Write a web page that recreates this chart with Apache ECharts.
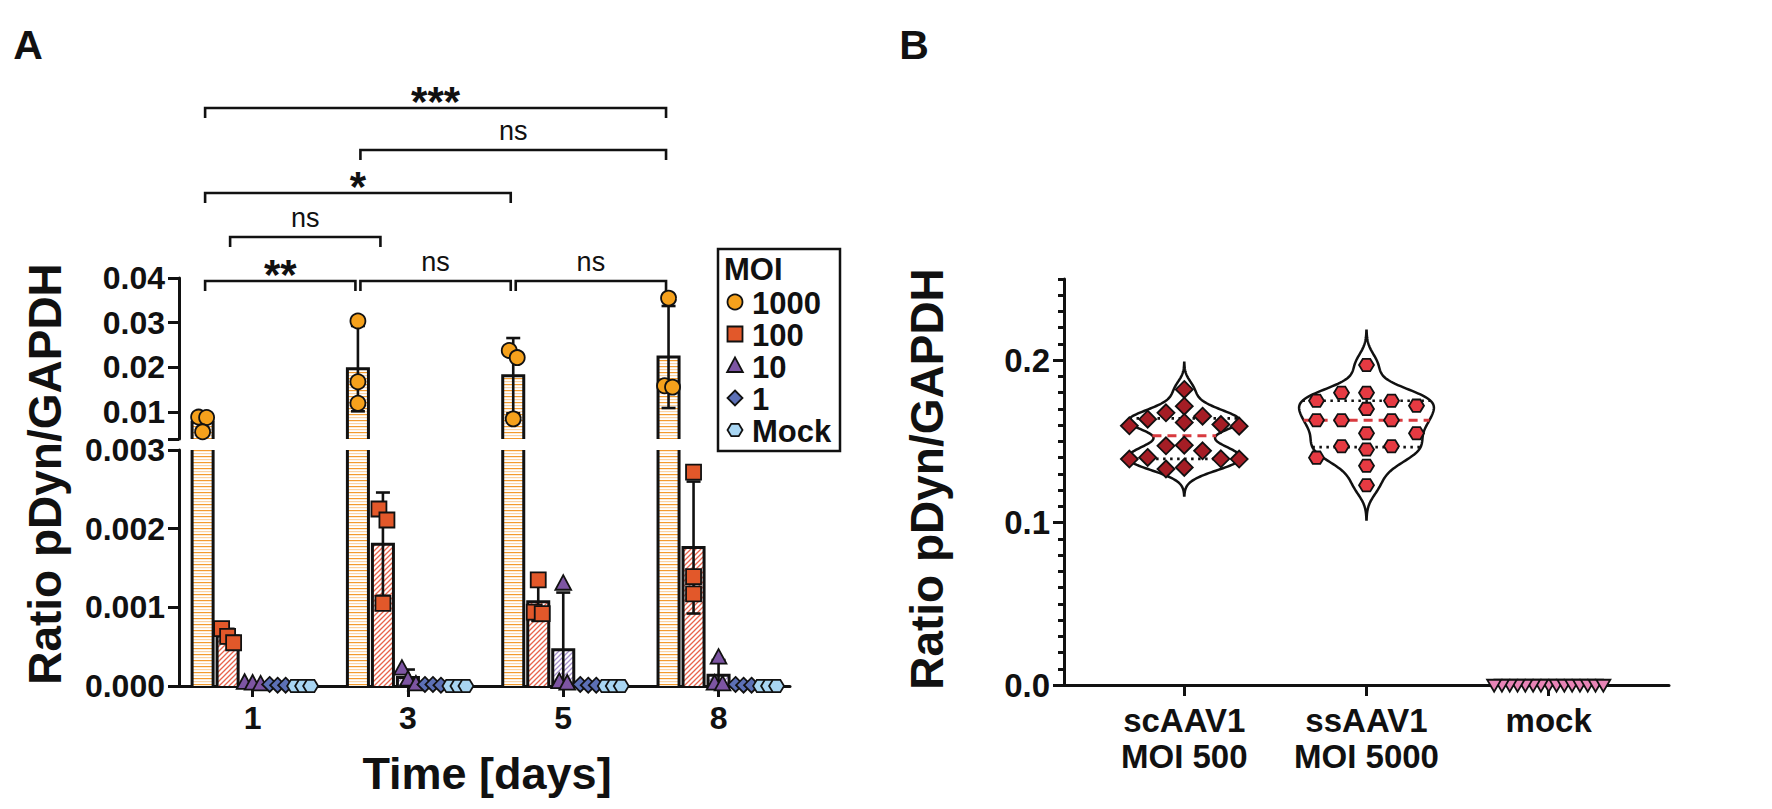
<!DOCTYPE html>
<html><head><meta charset="utf-8">
<script src="https://cdn.jsdelivr.net/npm/echarts@6/dist/echarts.min.js"></script>
<style>html,body{margin:0;padding:0;background:#fff}#c{width:1772px;height:809px}</style>
</head><body><div id="c"></div>
<script>
// ---------- DATA ----------
const days = ['1', '3', '5', '8'];
const moiLabels = ['1000', '100', '10', '1', 'Mock'];
const moi1000 = [[0.0089, 0.0088, 0.0056], [0.0304, 0.0168, 0.0120], [0.0238, 0.0222, 0.0085], [0.0355, 0.0156, 0.0159]];
const moi100 = [[0.00073, 0.00063, 0.00055], [0.00225, 0.00211, 0.00105], [0.00135, 0.00092, 0.00094], [0.00272, 0.00139, 0.00117]];
const moi10 = [[0.00003, 0.00004, 0.00002], [0.00022, 0.00002, 0.00008], [0.00130, 0.00005, 0.00003], [0.00036, 0.00002, 0.00003]];
const moi1 = [[0.00001, 0.00002, 0.00001], [0.00002, 0.00001, 0.00002], [0.00001, 0.00002, 0.00001], [0.00001, 0.00002, 0.00001]];
const moiMock = [[0, 0, 0], [0, 0, 0], [0, 0, 0], [0, 0, 0]];
const upperTicks = [0.01, 0.02, 0.03, 0.04];
const lowerTicks = [0, 0.001, 0.002, 0.003];
const sigTests = [
  { a: [0, 0], b: [3, 0], label: '***' },
  { a: [1, 0], b: [3, 0], label: 'ns' },
  { a: [0, 0], b: [2, 0], label: '*' },
  { a: [0, 1], b: [1, 1], label: 'ns' },
  { a: [0, 0], b: [1, 0], label: '**' },
  { a: [1, 0], b: [2, 0], label: 'ns' },
  { a: [2, 0], b: [3, 0], label: 'ns' }
];
const groupsB = ['scAAV1\nMOI 500', 'ssAAV1\nMOI 5000', 'mock'];
const scAAV1 = [0.182, 0.1717, 0.1676, 0.1655, 0.1637, 0.1617, 0.1604, 0.1596, 0.1594, 0.1477, 0.1473, 0.1442, 0.1401, 0.1393, 0.1391, 0.1391, 0.134, 0.133];
const ssAAV1 = [0.197, 0.180, 0.180, 0.175, 0.175, 0.172, 0.170, 0.163, 0.163, 0.163, 0.155, 0.155, 0.147, 0.147, 0.145, 0.140, 0.135, 0.123];
const mockB = [0, 0, 0, 0, 0, 0, 0, 0, 0, 0, 0, 0, 0, 0, 0];
const bTicks = [0, 0.1, 0.2];

// ---------- helpers ----------
const moiData = [moi1000, moi100, moi10, moi1, moiMock];
const valsB = [scAAV1, ssAAV1, mockB];
const FONT = '"Liberation Sans", Arial, Helvetica, sans-serif';
const INK = '#111';
function mean(a) { return a.reduce((s, v) => s + v, 0) / a.length; }
function stdev(a) { const m = mean(a); return a.length > 1 ? Math.sqrt(a.reduce((s, v) => s + (v - m) * (v - m), 0) / (a.length - 1)) : 0; }
function quantile(a, p) {
  const s = [...a].sort((x, y) => x - y); const n = s.length; const pos = (n + 1) * p;
  if (pos <= 1) return s[0]; if (pos >= n) return s[n - 1];
  const i = Math.floor(pos), f = pos - i; return s[i - 1] + f * (s[i] - s[i - 1]);
}
function hPattern(c1, c2) {
  const cv = document.createElement('canvas'); cv.width = 4; cv.height = 6;
  const x = cv.getContext('2d'); x.fillStyle = '#fff'; x.fillRect(0, 0, 4, 6);
  x.fillStyle = c1; x.fillRect(0, 0, 4, 1.2); x.fillStyle = c2; x.fillRect(0, 3, 4, 1.2);
  return { image: cv, repeat: 'repeat', imageWidth: 4, imageHeight: 6 };
}
function dPattern(c) {
  const s = 5; const cv = document.createElement('canvas'); cv.width = s; cv.height = s;
  const x = cv.getContext('2d'); x.fillStyle = '#fff'; x.fillRect(0, 0, s, s);
  x.strokeStyle = c; x.lineWidth = 1.3; x.beginPath();
  x.moveTo(0, s); x.lineTo(s, 0); x.moveTo(-1, 1); x.lineTo(1, -1); x.moveTo(s - 1, s + 1); x.lineTo(s + 1, s - 1);
  x.stroke();
  return { image: cv, repeat: 'repeat', imageWidth: s, imageHeight: s };
}
const moiStyle = [
  { shape: 'circle', color: '#f5a11c', fill: hPattern('#f39a2c', '#fbd3a3') },
  { shape: 'square', color: '#e2582a', fill: dPattern('#e8634c') },
  { shape: 'triangle', color: '#7d55a3', fill: dPattern('#a58fca') },
  { shape: 'diamond', color: '#5c70b6', fill: dPattern('#8596cc') },
  { shape: 'hexagon', color: '#a8d5f2', fill: dPattern('#a8d5f2') }
];
const bStyle = [
  { shape: 'diamond', color: '#a51d25', size: 17, step: 18.3, halfW: 0.31 },
  { shape: 'hexagon', color: '#e63a42', size: 15, step: 25, halfW: 0.37 },
  { shape: 'triangleDown', color: '#e884b6', size: 14, step: 7.8, halfW: 0.3 }
];
function marker(shape, cx, cy, s, fill) {
  const st = { fill: fill, stroke: INK, lineWidth: 1.8 };
  const h = s / 2;
  switch (shape) {
    case 'circle': return { type: 'circle', shape: { cx: cx, cy: cy, r: h }, style: st };
    case 'square': return { type: 'rect', shape: { x: cx - h, y: cy - h, width: s, height: s }, style: st };
    case 'triangle': return { type: 'polygon', shape: { points: [[cx, cy - h * 1.15], [cx + h * 1.05, cy + h * 0.8], [cx - h * 1.05, cy + h * 0.8]] }, style: st };
    case 'triangleDown': return { type: 'polygon', shape: { points: [[cx - h, cy - h * 0.75], [cx + h, cy - h * 0.75], [cx, cy + h * 0.95]] }, style: st };
    case 'diamond': return { type: 'polygon', shape: { points: [[cx, cy - h], [cx + h, cy], [cx, cy + h], [cx - h, cy]] }, style: st };
    default: return { type: 'polygon', shape: { points: [[cx + h, cy], [cx + h / 2, cy - h * 0.82], [cx - h / 2, cy - h * 0.82], [cx - h, cy], [cx - h / 2, cy + h * 0.82], [cx + h / 2, cy + h * 0.82]] }, style: st };
  }
}
function txt(x, y, text, size, weight, align, valign, extra, lh) {
  const style = { text: text, fill: INK, font: weight + ' ' + size + 'px ' + FONT, textAlign: align, textVerticalAlign: valign, align: align, verticalAlign: valign };
  if (lh) style.lineHeight = lh;
  return Object.assign({ type: 'text', x: x, y: y, z: 10, style: style }, extra || {});
}

// ---------- panel A render ----------
const barSlot = 0.161, barHalf = 0.0677;
const segs = [{ min: 0.004, max: 0.04 }, { min: 0, max: 0.003 }];
function renderA(seg) {
  return function (params, api) {
    const xc = api.value(0), d = api.value(2), m = api.value(3);
    const pts = moiData[m][d];
    const mu = mean(pts), sd = stdev(pts);
    const st = moiStyle[m];
    const ch = [];
    if (mu > seg.min) {
      const top = Math.min(mu, seg.max);
      const tl = api.coord([xc - barHalf, top]);
      const br = api.coord([xc + barHalf, seg.min]);
      ch.push({ type: 'rect', shape: { x: tl[0], y: tl[1], width: br[0] - tl[0], height: br[1] - tl[1] }, style: { fill: st.fill, stroke: null } });
      if (mu <= seg.max) {
        ch.push({ type: 'polyline', shape: { points: [[tl[0], br[1]], [tl[0], tl[1]], [br[0], tl[1]], [br[0], br[1]]] }, style: { stroke: INK, lineWidth: 3, fill: null } });
      } else {
        ch.push({ type: 'line', shape: { x1: tl[0], y1: tl[1], x2: tl[0], y2: br[1] }, style: { stroke: INK, lineWidth: 3 } });
        ch.push({ type: 'line', shape: { x1: br[0], y1: tl[1], x2: br[0], y2: br[1] }, style: { stroke: INK, lineWidth: 3 } });
      }
    }
    // error bars (mean ± SD)
    const lo = Math.max(0, mu - sd), hi = mu + sd;
    const a = Math.max(lo, seg.min), b = Math.min(hi, seg.max);
    if (sd > 0 && b > a) {
      const pa = api.coord([xc, a]), pb = api.coord([xc, b]);
      ch.push({ type: 'line', shape: { x1: pa[0], y1: pa[1], x2: pb[0], y2: pb[1] }, style: { stroke: INK, lineWidth: 2.6 } });
      if (hi <= seg.max) ch.push({ type: 'line', shape: { x1: pb[0] - 7, y1: pb[1], x2: pb[0] + 7, y2: pb[1] }, style: { stroke: INK, lineWidth: 2.6 } });
      if (lo >= seg.min) ch.push({ type: 'line', shape: { x1: pa[0] - 7, y1: pa[1], x2: pa[0] + 7, y2: pa[1] }, style: { stroke: INK, lineWidth: 2.6 } });
    }
    // points with simple overlap spreading
    const vis = pts.filter(v => v >= seg.min && v <= seg.max).map(v => ({ v: v, p: api.coord([xc, v]) }));
    vis.sort((p, q) => p.p[1] - q.p[1]);
    const clusters = [];
    vis.forEach(o => {
      const last = clusters[clusters.length - 1];
      if (last && o.p[1] - last[last.length - 1].p[1] < 13) last.push(o); else clusters.push([o]);
    });
    clusters.forEach(cl => {
      cl.forEach((o, i) => {
        const off = (i - (cl.length - 1) / 2) * (cl.length > 2 && o.v > 0.0002 ? 6 : 8);
        ch.push(marker(st.shape, o.p[0] + off, o.p[1], 15, st.color));
      });
    });
    return { type: 'group', children: ch };
  };
}
const dataA = [];
for (let m = 0; m < moiData.length; m++) for (let d = 0; d < days.length; d++) dataA.push([d + (m - 2) * barSlot, mean(moiData[m][d]), d, m]);

// ---------- panel B render ----------
function renderB(params, api) {
  const g = api.value(2);
  const vals = valsB[g];
  const st = bStyle[g];
  const ch = [];
  const n = vals.length;
  const sd = stdev(vals);
  const mn = Math.min(...vals), mx = Math.max(...vals);
  if (sd > 0) {
    const iqr = quantile(vals, 0.75) - quantile(vals, 0.25);
    const h = 0.75 * 0.9 * Math.min(sd, iqr / 1.34) * Math.pow(n, -0.2);
    const dens = y => vals.reduce((s, v) => s + Math.exp(-0.5 * Math.pow((y - v) / h, 2)), 0);
    const lo = mn - 3 * h, hi = mx + 3 * h, N = 160;
    const ys = []; for (let i = 0; i <= N; i++) ys.push(lo + (hi - lo) * i / N);
    const maxD = Math.max(...ys.map(dens));
    const w = y => dens(y) / maxD * st.halfW;
    const left = ys.map(y => api.coord([g - w(y), y]));
    const right = ys.slice().reverse().map(y => api.coord([g + w(y), y]));
    ch.push({ type: 'polygon', shape: { points: left.concat(right), smooth: 0 }, style: { fill: '#fff', stroke: INK, lineWidth: 2.5 } });
    [[0.25, false], [0.75, false], [0.5, true]].forEach(([q, isMed]) => {
      const yv = quantile(vals, q);
      const p1 = api.coord([g - w(yv), yv]), p2 = api.coord([g + w(yv), yv]);
      ch.push({ type: 'line', shape: { x1: p1[0], y1: p1[1], x2: p2[0], y2: p2[1] },
        style: isMed ? { stroke: '#d83a3f', lineWidth: 3, lineDash: [9, 6] } : { stroke: INK, lineWidth: 2.6, lineDash: [2.5, 4.5] } });
    });
  }
  // beeswarm points
  const order = vals.map((v, i) => i).sort((a, b) => vals[b] - vals[a]);
  const placed = [];
  const cols = [0]; for (let k = 1; k < 20; k++) { cols.push(-k); cols.push(k); }
  order.forEach(i => {
    const p = api.coord([g, vals[i]]);
    for (const k of cols) {
      if (!placed.some(o => o.col === k && Math.abs(o.p[1] - p[1]) < 15)) { placed.push({ col: k, p: p }); break; }
    }
  });
  placed.forEach(o => ch.push(marker(st.shape, o.p[0] + o.col * st.step, o.p[1], st.size, st.color)));
  return { type: 'group', children: ch };
}
const dataB = valsB.map((v, g) => [g, quantile(v, 0.5), g]);

// ---------- option ----------
const lineSt = { color: INK, width: 3 };
const lab = (size, extra) => Object.assign({ color: INK, fontSize: size, fontWeight: 'bold', fontFamily: FONT }, extra);
const option = {
  animation: false,
  backgroundColor: '#fff',
  grid: [
    { left: 179, top: 278, width: 611, height: 161, containLabel: false, outerBoundsMode: 'none' },
    { left: 179, top: 450, width: 611, height: 236, containLabel: false, outerBoundsMode: 'none' },
    { left: 1064, top: 279, width: 605, height: 406, containLabel: false, outerBoundsMode: 'none' }
  ],
  xAxis: [
    { gridIndex: 0, type: 'value', min: -0.474, max: 3.46, show: false, splitLine: { show: false } },
    { gridIndex: 1, type: 'value', min: -0.474, max: 3.46, splitLine: { show: false },
      axisLine: { show: true, onZero: false, lineStyle: lineSt },
      axisTick: { show: true, customValues: [0, 1, 2, 3], length: 11, lineStyle: lineSt },
      axisLabel: lab(32, { customValues: [0, 1, 2, 3], formatter: v => days[Math.round(v)], margin: 16 }) },
    { gridIndex: 2, type: 'value', min: -0.66, max: 2.66, splitLine: { show: false },
      axisLine: { show: true, onZero: false, lineStyle: lineSt },
      axisTick: { show: true, customValues: [0, 1, 2], length: 11, lineStyle: lineSt },
      axisLabel: lab(33, { customValues: [0, 1, 2], formatter: v => groupsB[Math.round(v)], margin: 17, lineHeight: 36 }) }
  ],
  yAxis: [
    { gridIndex: 0, type: 'value', min: 0.004, max: 0.04, splitLine: { show: false },
      axisLine: { show: true, onZero: false, lineStyle: lineSt },
      axisTick: { show: true, customValues: [0.004].concat(upperTicks), length: 11, lineStyle: lineSt },
      axisLabel: lab(32, { customValues: upperTicks, formatter: v => v.toFixed(2), margin: 14 }) },
    { gridIndex: 1, type: 'value', min: 0, max: 0.003, splitLine: { show: false },
      axisLine: { show: true, onZero: false, lineStyle: lineSt },
      axisTick: { show: true, customValues: lowerTicks, length: 11, lineStyle: lineSt },
      axisLabel: lab(32, { customValues: lowerTicks, formatter: v => v.toFixed(3), margin: 14 }) },
    { gridIndex: 2, type: 'value', position: 'left', offset: 0, min: 0, max: 0.25, splitLine: { show: false },
      axisLine: { show: true, onZero: false, lineStyle: lineSt },
      axisTick: { show: true, customValues: bTicks, length: 11, lineStyle: lineSt },
      axisLabel: lab(33, { customValues: bTicks, formatter: v => v.toFixed(1), margin: 14 }) },
    { gridIndex: 2, type: 'value', position: 'left', offset: 0, min: 0, max: 0.25, interval: 0.01, splitLine: { show: false },
      axisLine: { show: false, onZero: false }, axisLabel: { show: false },
      axisTick: { show: true, length: 6, lineStyle: lineSt } }
  ],
  series: [
    { type: 'custom', xAxisIndex: 0, yAxisIndex: 0, renderItem: renderA(segs[0]), data: dataA, encode: { x: 0, y: 1 }, z: 3 },
    { type: 'custom', xAxisIndex: 1, yAxisIndex: 1, renderItem: renderA(segs[1]), data: dataA, encode: { x: 0, y: 1 }, z: 3 },
    { type: 'custom', xAxisIndex: 2, yAxisIndex: 2, renderItem: renderB, data: dataB, encode: { x: 0, y: 1 }, z: 3 }
  ]
};
const chart = echarts.init(document.getElementById('c'), null, { renderer: 'svg', width: 1772, height: 809 });
chart.setOption(option);

// ---------- annotations (brackets, legend, titles) ----------
const graphics = [];
const bracketY = [108, 150, 193, 237, 281, 281, 281];
const px = (d, m) => chart.convertToPixel({ xAxisIndex: 0 }, d + (m - 2) * barSlot);
sigTests.forEach((t, i) => {
  const x1 = px(t.a[0], t.a[1]) + 2.5, x2 = px(t.b[0], t.b[1]) - 2.5, y = bracketY[i];
  graphics.push({ type: 'polyline', z: 10, shape: { points: [[x1, y + 10], [x1, y], [x2, y], [x2, y + 10]] }, style: { stroke: INK, lineWidth: 2.6, fill: null } });
  const star = t.label !== 'ns';
  graphics.push(txt((x1 + x2) / 2, star ? y - 7 : y - 19, t.label, star ? 42 : 27, star ? 'bold' : 'normal', 'center', 'middle', null, star ? 24 : 24));
});
// legend
graphics.push({ type: 'rect', z: 9, shape: { x: 718, y: 249, width: 122, height: 202 }, style: { fill: '#fff', stroke: INK, lineWidth: 2.5 } });
graphics.push(txt(724, 269, 'MOI', 31, 'bold', 'left', 'middle', null, 29));
moiLabels.forEach((l, i) => {
  const y = 302 + i * 32;
  const mk = marker(moiStyle[i].shape, 735, y, 15, moiStyle[i].color); mk.z = 10;
  graphics.push(mk);
  graphics.push(txt(752, y + 1, l, 31, 'bold', 'left', 'middle', null, 28));
});
// titles
graphics.push(txt(28, 45, 'A', 41, 'bold', 'center', 'middle'));
graphics.push(txt(914, 45, 'B', 41, 'bold', 'center', 'middle'));
graphics.push(txt(487, 773, 'Time [days]', 45, 'bold', 'center', 'middle'));
graphics.push(txt(45, 474, 'Ratio pDyn/GAPDH', 46, 'bold', 'center', 'middle', { rotation: Math.PI / 2 }));
graphics.push(txt(927, 479, 'Ratio pDyn/GAPDH', 46, 'bold', 'center', 'middle', { rotation: Math.PI / 2 }));
chart.setOption({ graphic: graphics });
</script>
</body></html>
